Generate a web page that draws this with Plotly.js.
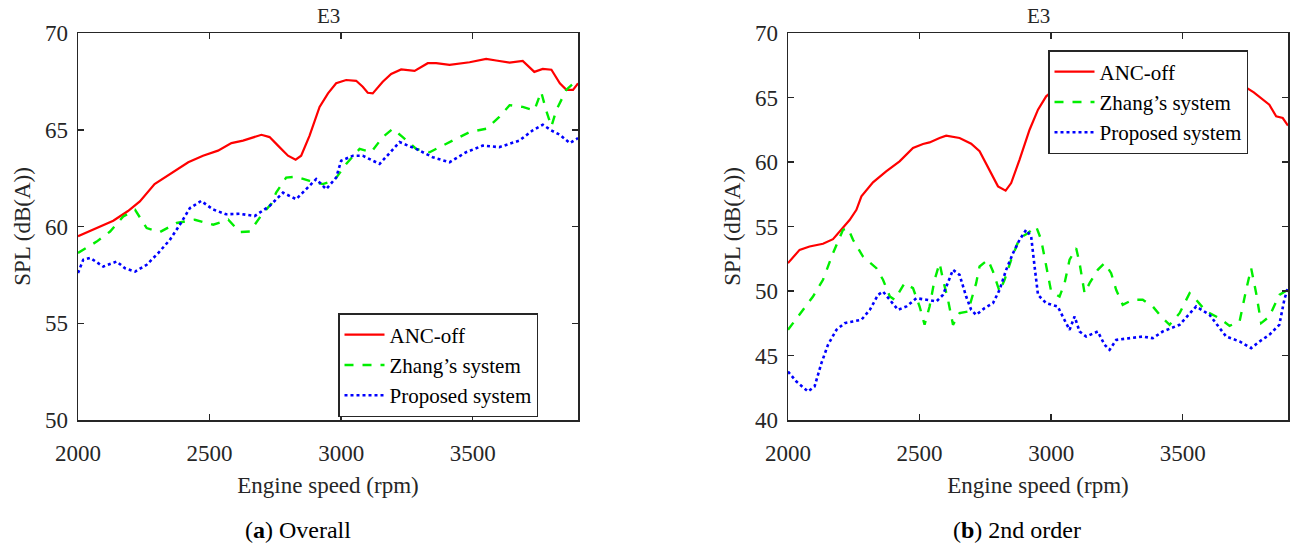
<!DOCTYPE html>
<html>
<head>
<meta charset="utf-8">
<script src="https://cdn.plot.ly/plotly-3.0.1.min.js"></script>
<style>
  body { margin: 0; background: #fff; }
  #plot { width: 1299px; height: 554px; }
</style>
</head>
<body>
<div id="plot"></div>
<script>
// (a) Overall
var overallAncX = [2000, 2070, 2134, 2190, 2235, 2291, 2361, 2419, 2475, 2532, 2583, 2627, 2697, 2728, 2760, 2798, 2827, 2848, 2880, 2918, 2950, 2981, 3019, 3057, 3082, 3101, 3120, 3158, 3190, 3228, 3279, 3329, 3361, 3412, 3488, 3551, 3589, 3640, 3690, 3734, 3766, 3799, 3831, 3856, 3881, 3900]
var overallAncY = [59.5, 59.9, 60.3, 60.8, 61.3, 62.19, 62.8, 63.32, 63.66, 63.92, 64.31, 64.44, 64.74, 64.62, 64.18, 63.66, 63.45, 63.66, 64.7, 66.18, 66.88, 67.4, 67.57, 67.53, 67.22, 66.91, 66.88, 67.48, 67.88, 68.12, 68.04, 68.44, 68.44, 68.35, 68.49, 68.66, 68.58, 68.47, 68.56, 67.99, 68.14, 68.1, 67.4, 67.06, 67.06, 67.4]

var overallZhangX = [2000, 2071, 2122, 2172, 2217, 2261, 2311, 2375, 2444, 2514, 2571, 2615, 2653, 2698, 2736, 2753, 2791, 2829, 2880, 2930, 2975, 3019, 3070, 3114, 3158, 3196, 3234, 3285, 3336, 3374, 3424, 3488, 3551, 3601, 3640, 3690, 3734, 3760, 3779, 3799, 3818, 3856, 3900]
var overallZhangY = [58.63, 59.22, 59.74, 60.52, 60.86, 59.92, 59.71, 60.18, 60.35, 60.09, 60.35, 59.71, 59.74, 60.6, 61.2, 61.75, 62.53, 62.57, 62.36, 62.19, 62.4, 63.23, 64.01, 63.84, 64.62, 65.05, 64.62, 64.01, 63.84, 64.1, 64.41, 64.88, 65.05, 65.66, 66.27, 66.18, 66.0, 66.96, 66.0, 65.17, 66.03, 67.07, 67.6]

var overallPropX = [2000, 2020, 2046, 2096, 2147, 2179, 2217, 2261, 2305, 2349, 2387, 2425, 2468, 2513, 2563, 2614, 2671, 2728, 2779, 2829, 2905, 2943, 2981, 3000, 3045, 3082, 3146, 3222, 3285, 3348, 3412, 3475, 3538, 3601, 3677, 3728, 3766, 3798, 3831, 3869, 3900]
var overallPropY = [57.6, 58.28, 58.38, 57.93, 58.19, 57.84, 57.67, 58.02, 58.63, 59.31, 60.09, 60.95, 61.32, 60.88, 60.63, 60.66, 60.54, 61.06, 61.75, 61.41, 62.45, 61.93, 62.53, 63.4, 63.66, 63.66, 63.23, 64.36, 64.01, 63.58, 63.32, 63.84, 64.18, 64.1, 64.44, 64.97, 65.26, 64.97, 64.74, 64.31, 64.57]

// (b) 2nd order
var orderAncX = [2000, 2044, 2082, 2133, 2171, 2215, 2234, 2260, 2279, 2323, 2373, 2424, 2475, 2513, 2538, 2576, 2601, 2652, 2696, 2728, 2766, 2798, 2827, 2848, 2880, 2918, 2950, 2981, 3030, 3080, 3150, 3220, 3300, 3380, 3460, 3540, 3620, 3700, 3770, 3829, 3855, 3880, 3900]
var orderAncY = [52.16, 53.19, 53.45, 53.66, 54.02, 55.0, 55.5, 56.29, 57.34, 58.42, 59.28, 60.05, 61.09, 61.4, 61.52, 61.86, 62.04, 61.86, 61.42, 60.83, 59.41, 58.11, 57.78, 58.37, 60.18, 62.5, 64.06, 65.09, 65.9, 66.3, 66.6, 67.0, 67.3, 67.5, 67.6, 67.4, 67.0, 66.3, 65.4, 64.44, 63.54, 63.41, 62.82]

var orderZhangX = [2000, 2044, 2095, 2133, 2171, 2209, 2228, 2247, 2285, 2336, 2361, 2387, 2405, 2443, 2475, 2500, 2519, 2538, 2557, 2576, 2589, 2608, 2627, 2652, 2684, 2715, 2728, 2760, 2779, 2804, 2823, 2848, 2880, 2911, 2943, 2962, 2981, 3000, 3032, 3051, 3070, 3095, 3108, 3127, 3146, 3177, 3203, 3228, 3247, 3272, 3310, 3348, 3386, 3418, 3450, 3488, 3526, 3551, 3589, 3640, 3678, 3716, 3741, 3760, 3779, 3798, 3829, 3867, 3899]
var orderZhangY = [46.99, 48.15, 49.57, 50.87, 52.93, 54.74, 54.87, 53.97, 52.67, 51.77, 50.87, 49.57, 49.32, 50.61, 50.22, 48.8, 47.38, 48.8, 50.87, 52.16, 50.87, 49.32, 47.38, 48.28, 48.41, 50.61, 51.9, 52.42, 51.51, 49.96, 50.87, 52.42, 54.1, 54.48, 55.0, 53.97, 51.9, 49.96, 49.57, 50.61, 52.42, 53.32, 52.16, 49.83, 50.61, 51.64, 52.16, 51.38, 50.09, 48.93, 49.32, 49.32, 48.8, 48.02, 47.38, 48.28, 49.83, 49.32, 48.41, 47.89, 47.3, 47.64, 50.09, 51.77, 49.83, 47.51, 48.02, 49.7, 50.09]

var orderPropX = [2000, 2032, 2076, 2101, 2127, 2152, 2184, 2215, 2247, 2279, 2311, 2342, 2361, 2387, 2418, 2450, 2488, 2526, 2564, 2589, 2608, 2627, 2652, 2677, 2696, 2715, 2747, 2779, 2804, 2829, 2855, 2880, 2905, 2924, 2937, 2950, 2981, 3025, 3044, 3070, 3089, 3108, 3133, 3177, 3203, 3222, 3247, 3298, 3348, 3386, 3424, 3488, 3551, 3602, 3665, 3716, 3760, 3792, 3829, 3867, 3886, 3899]
var orderPropY = [43.76, 42.98, 42.21, 42.6, 44.41, 45.83, 46.99, 47.51, 47.64, 47.77, 48.54, 49.7, 49.96, 49.32, 48.54, 48.8, 49.44, 49.32, 49.19, 49.7, 50.61, 51.64, 51.25, 49.57, 48.54, 48.15, 48.67, 49.06, 50.09, 51.64, 52.93, 53.97, 54.74, 54.22, 51.9, 49.7, 49.06, 48.8, 48.02, 46.99, 48.02, 46.86, 46.47, 46.86, 45.83, 45.44, 46.21, 46.34, 46.47, 46.34, 46.86, 47.38, 48.8, 48.15, 46.47, 46.09, 45.57, 46.09, 46.6, 47.38, 49.32, 50.22]

var seriesNames = ["ANC-off", "Zhang\u2019s system", "Proposed system"]
var xTicks = [2000, 2500, 3000, 3500]

var txt = '#262626'
var fnt = '"Liberation Serif", "Times New Roman", "DejaVu Serif", serif'

var styles = [
    { color: '#ff0000', width: 2.2, dash: 'solid' },
    { color: '#00ee00', width: 2.4, dash: 'dash' },
    { color: '#0000ff', width: 2.6, dash: 'dot' }
]

function mk(x, y, i, xa, ya, lg) {
    return {
        x: x, y: y, name: seriesNames[i], mode: 'lines',
        line: styles[i], xaxis: xa, yaxis: ya,
        legend: lg, hoverinfo: 'skip'
    }
}

var traces = [
    mk(overallAncX, overallAncY, 0, 'x', 'y', 'legend'),
    mk(overallZhangX, overallZhangY, 1, 'x', 'y', 'legend'),
    mk(overallPropX, overallPropY, 2, 'x', 'y', 'legend'),
    mk(orderAncX, orderAncY, 0, 'x2', 'y2', 'legend2'),
    mk(orderZhangX, orderZhangY, 1, 'x2', 'y2', 'legend2'),
    mk(orderPropX, orderPropY, 2, 'x2', 'y2', 'legend2')
]

function xAx(dom, anchor) {
    return {
        domain: dom, anchor: anchor, range: [2000, 3900], tickvals: xTicks,
        ticks: 'inside', ticklen: 6, tickwidth: 1.5, tickcolor: txt,
        showline: true, linecolor: txt, linewidth: 1.5, mirror: 'ticks',
        showgrid: false, zeroline: false, ticklabelstandoff: 12,
        tickfont: { family: fnt, size: 23, color: txt },
        title: { text: 'Engine speed (rpm)', font: { family: fnt, size: 23, color: txt }, standoff: 12 }
    }
}
function yAx(dom, anchor, rng) {
    return {
        domain: dom, anchor: anchor, range: rng, dtick: 5,
        ticks: 'inside', ticklen: 6, tickwidth: 1.5, tickcolor: txt,
        showline: true, linecolor: txt, linewidth: 1.5, mirror: 'ticks',
        showgrid: false, zeroline: false, ticklabelstandoff: 4,
        tickfont: { family: fnt, size: 23, color: txt },
        title: { text: 'SPL (dB(A))', font: { family: fnt, size: 23, color: txt }, standoff: 8 }
    }
}

var yDom = [1 - 420 / 554, 1 - 33 / 554]
var legendStyle = function(x, y) {
    return {
        x: x, y: y, xanchor: 'left', yanchor: 'top', xref: 'paper', yref: 'paper',
        bgcolor: '#ffffff', bordercolor: txt, borderwidth: 1.5,
        font: { family: fnt, size: 21, color: '#000' },
        tracegroupgap: 0, itemwidth: 40
    }
}

function note(text, px, py, size, color) {
    return {
        text: text, x: px / 1299, y: 1 - py / 554, xref: 'paper', yref: 'paper',
        showarrow: false, xanchor: 'center', yanchor: 'middle',
        font: { family: fnt, size: size, color: color }
    }
}

var layout = {
    width: 1299, height: 554,
    margin: { l: 0, r: 0, t: 0, b: 0 },
    paper_bgcolor: '#fff', plot_bgcolor: '#fff',
    showlegend: true,
    xaxis: xAx([78 / 1299, 578 / 1299], 'y'),
    yaxis: yAx(yDom, 'x', [50, 70]),
    xaxis2: xAx([788 / 1299, 1288 / 1299], 'y2'),
    yaxis2: yAx(yDom, 'x2', [40, 70]),
    legend: legendStyle(338 / 1299, 1 - 313 / 554),
    legend2: legendStyle(1048 / 1299, 1 - 50 / 554),
    annotations: [
        note('E3', 328, 16, 21, txt),
        note('E3', 1038, 16, 21, txt),
        note('(<b>a</b>) Overall', 298, 530, 24, '#000'),
        note('(<b>b</b>) 2nd order', 1017, 530, 24, '#000')
    ]
}

Plotly.newPlot('plot', traces, layout, { staticPlot: true })
</script>
</body>
</html>
